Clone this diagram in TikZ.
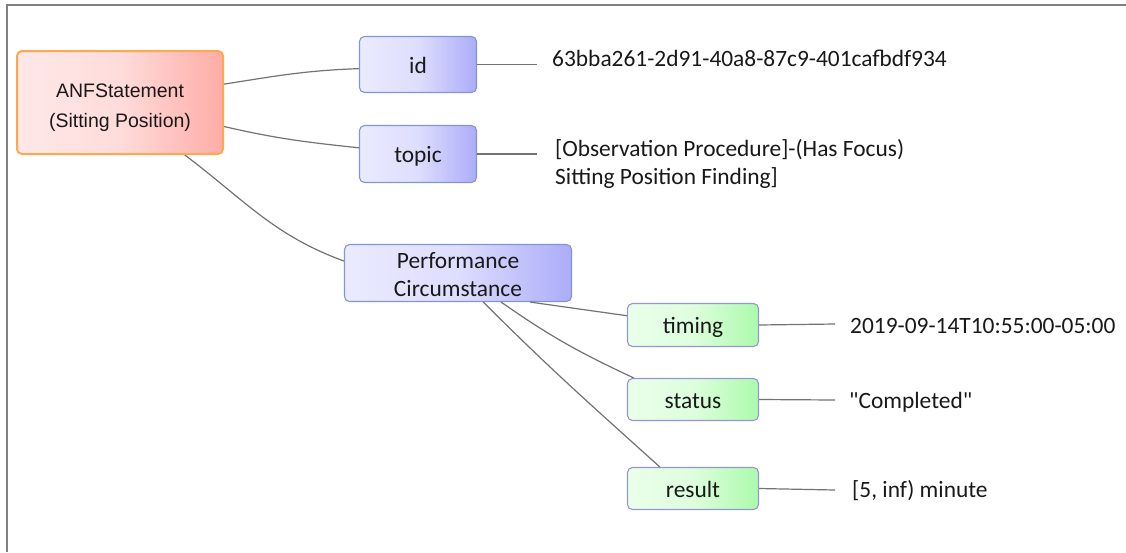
\documentclass[tikz,border=0pt]{standalone}
\usepackage{fontspec}
\setmainfont{Carlito}[Ligatures=TeXOff]
\newfontfamily\arialf{Liberation Sans}
\definecolor{txt}{RGB}{25,25,25}
\definecolor{frame}{RGB}{128,128,128}
\definecolor{conn}{RGB}{115,115,115}
\definecolor{anfl}{RGB}{255,232,232}
\definecolor{anfr}{RGB}{255,172,166}
\definecolor{anfedge}{RGB}{255,168,80}
\definecolor{bluel}{RGB}{234,234,255}
\definecolor{bluer}{RGB}{172,172,250}
\definecolor{blueedge}{RGB}{132,150,205}
\definecolor{greenl}{RGB}{234,255,234}
\definecolor{greenr}{RGB}{172,250,172}
\definecolor{greenedge}{RGB}{150,150,212}
\tikzset{
  box/.style={rounded corners=5pt, line width=1.1pt, align=center, inner sep=0pt,
    font=\fontsize{23.4}{28}\selectfont, text=txt, text height=17.5pt, text depth=0pt},
  anfbox/.style={box, draw=anfedge, line width=2pt, left color=anfl, right color=anfr,
    middle color=anfl!80!anfr, font=\arialf\fontsize{19.5}{30}\selectfont,
    text height=54pt, text depth=4pt},
  bluebox/.style={box, draw=blueedge, left color=bluel, right color=bluer, middle color=bluel!80!bluer},
  greenbox/.style={box, draw=greenedge, left color=greenl, right color=greenr, middle color=greenl!80!greenr},
  valtext/.style={anchor=base west, inner sep=0pt, align=left, text=txt,
    font=\fontsize{23.4}{28}\selectfont},
  link/.style={draw=conn, line width=1.2pt},
}
\begin{document}
\begin{tikzpicture}[x=1pt,y=-1pt]
\useasboundingbox (0,0) rectangle (1126,552);
\fill[white] (0,0) rectangle (1126,552);
% frame
\draw[frame, line width=1.5pt] (7,552) -- (7,5) -- (1126,5);

% nodes
\node[anfbox, minimum width=206pt, minimum height=103pt] (anf) at (120,102.5) {ANFStatement\\(Sitting Position)};
\node[bluebox, minimum width=117pt, minimum height=56pt] (id) at (418,64.5) {id};
\node[bluebox, minimum width=117pt, minimum height=57pt] (topic) at (418,154) {topic};
\node[bluebox, minimum width=227pt, minimum height=57pt, text height=46pt] (perf) at (458,273) {Performance\\Circumstance};
\node[greenbox, minimum width=131pt, minimum height=43pt] (timing) at (693,325) {timing};
\node[greenbox, minimum width=131pt, minimum height=42pt] (status) at (693,399.5) {status};
\node[greenbox, minimum width=131pt, minimum height=42pt] (result) at (693,488.5) {result};

% values
\node[valtext] (idv) at (552,66) {63bba261-2d91-40a8-87c9-401cafbdf934};
\node[valtext] (topicv) at (555,184) {[Observation Procedure]-(Has Focus)\\Sitting Position Finding]};
\node[valtext] (timingv) at (850,333) {2019-09-14T10:55:00-05:00};
\node[valtext] (statusv) at (849,408) {"Completed"};
\node[valtext] (resultv) at (852,497) {[5, inf) minute};

\coordinate (idend) at (537,64.5);
\coordinate (topicend) at (537,154);
\coordinate (timingend) at (835,324);
\coordinate (statusend) at (835,400);
\coordinate (resultend) at (835,490);

% connectors
\draw[link] (anf.10) to[out=9, in=182] (id.184);
\draw[link] (anf.-13) to[out=-13, in=174] (topic.174);
\draw[link] (anf.-39) to[out=-37, in=160] (perf.174);
\draw[link] (perf.-22.5) -- (timing.172);
\draw[link] (perf.-34.6) to[out=-35, in=155] (status.160.6);
\draw[link] (perf.-49.2) to[out=-45, in=138] (result.147);

\draw[link] (id.east) -- (idend);
\draw[link] (topic.east) -- (topicend);
\draw[link] (timing.east) -- (timingend);
\draw[link] (status.east) -- (statusend);
\draw[link] (result.east) -- (resultend);
\end{tikzpicture}
\end{document}
